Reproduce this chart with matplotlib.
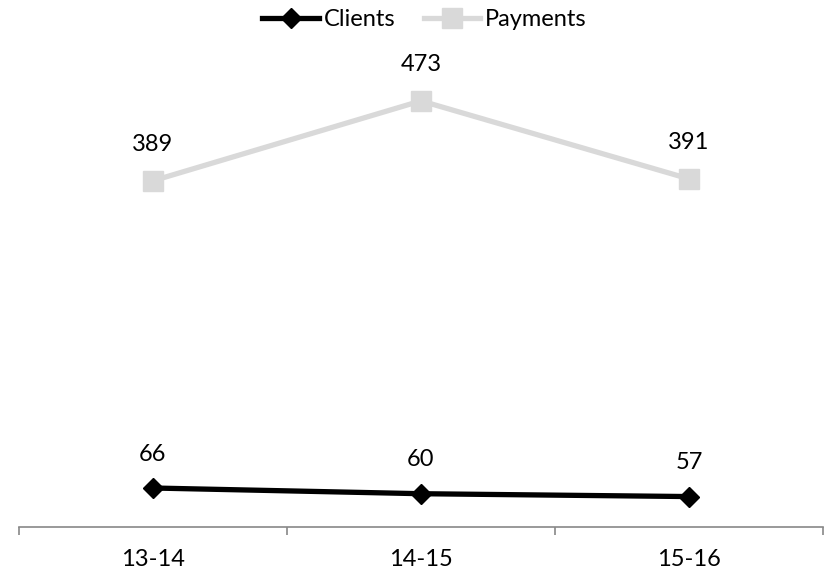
import matplotlib
matplotlib.use("Agg")
import matplotlib.pyplot as plt
from matplotlib.lines import Line2D

plt.rcParams['font.family'] = ['Lato', 'DejaVu Sans']

categories = ["13-14", "14-15", "15-16"]
clients = [66, 60, 57]
payments = [389, 473, 391]

W, H = 825, 574
fig = plt.figure(figsize=(W / 100, H / 100), dpi=100)
left, right, bottom, top = 19, 823, 527, 40
ax = fig.add_axes([left / W, (H - bottom) / H, (right - left) / W, (bottom - top) / H])

FS = 17
x = list(range(len(categories)))
gray = "#D9D9D9"
ax.plot(x, payments, color=gray, lw=3.8, marker="s", ms=14, mfc=gray, mec=gray, label="Payments", zorder=2)
ax.plot(x, clients, color="black", lw=3.8, marker="D", ms=10.5, mfc="black", mec="black", label="Clients", zorder=3)

for xi, v in zip(x, payments):
    ax.annotate(str(v), (xi, v), xytext=(0, 36), textcoords="offset pixels",
                ha="center", va="center", fontsize=FS)
for xi, v in zip(x, clients):
    ax.annotate(str(v), (xi, v), xytext=(0, 34), textcoords="offset pixels",
                ha="center", va="center", fontsize=FS)

ax.set_xlim(-0.5, len(categories) - 0.5)
ax.set_ylim(25, 537)

for s in ["top", "right", "left"]:
    ax.spines[s].set_visible(False)
ax.spines["bottom"].set_color("#888888")
ax.spines["bottom"].set_linewidth(1.2)
ax.set_yticks([])

ax.set_xticks([i - 0.5 for i in range(len(categories) + 1)])
ax.set_xticklabels([])
ax.tick_params(axis="x", which="major", direction="out", length=6, width=1.2, color="#888888")
ax.set_xticks(x, minor=True)
ax.set_xticklabels(categories, minor=True, fontsize=FS)
ax.tick_params(axis="x", which="minor", length=0, pad=16)

handles = [
    Line2D([0], [0], color="black", lw=3.8, marker="D", ms=10.5),
    Line2D([0], [0], color=gray, lw=3.8, marker="s", ms=14),
]
fig.legend(handles, ["Clients", "Payments"], loc="center", bbox_to_anchor=(0.5 + 12 / W, 1 - 20 / H),
           ncol=2, frameon=False, fontsize=FS, handlelength=2.4, handletextpad=0.2,
           columnspacing=1.2)

fig.savefig("out.png", dpi=100)
